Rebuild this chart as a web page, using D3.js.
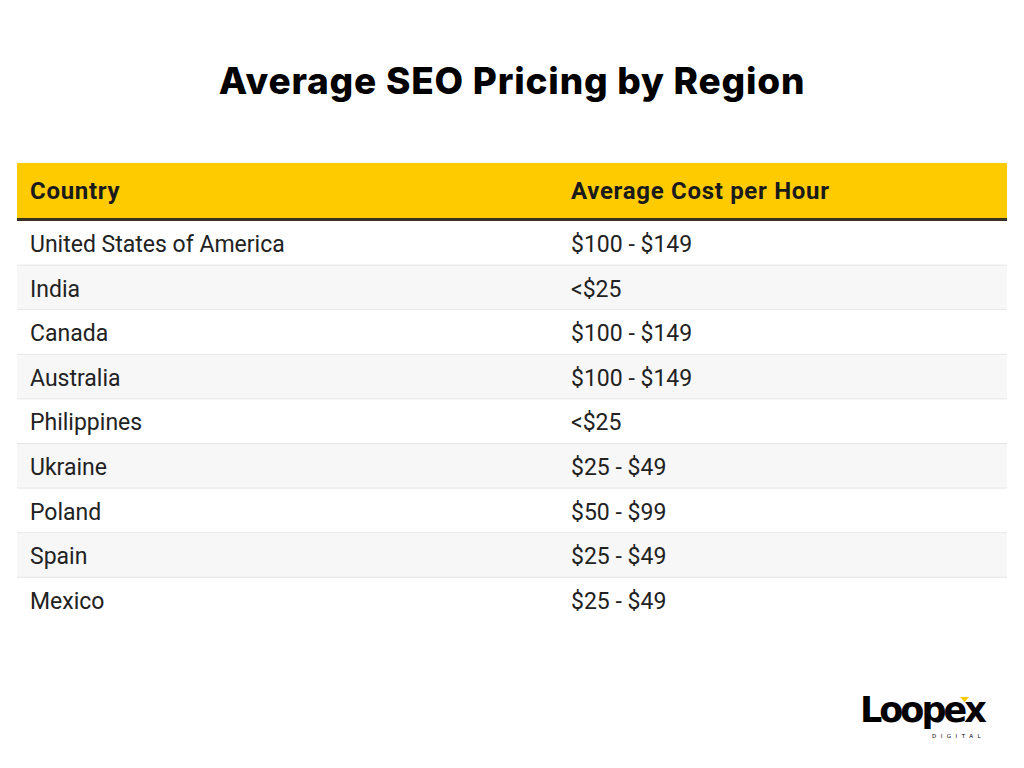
<!DOCTYPE html>
<html>
<head>
<meta charset="utf-8">
<script src="https://cdn.jsdelivr.net/npm/d3@7"></script>
<style>
  body { margin: 0; background: #fff; }
  svg { display: block; }
</style>
</head>
<body>
<script>
// table data
var headers = ["Country", "Average Cost per Hour"];
var countries = ["United States of America", "India", "Canada", "Australia", "Philippines", "Ukraine", "Poland", "Spain", "Mexico"];
var costs = ["$100 - $149", "<$25", "$100 - $149", "$100 - $149", "<$25", "$25 - $49", "$50 - $99", "$25 - $49", "$25 - $49"];

var width = 1024, height = 768;
var tableLeft = 17, tableRight = 1007;
var headTop = 163, headBottom = 218, bodyTop = 221;
var rowH = 44.6;

var svg = d3.select("body").append("svg")
  .attr("width", width)
  .attr("height", height);

// title
svg.append("text")
  .attr("x", width / 2)
  .attr("y", 94)
  .attr("text-anchor", "middle")
  .style("font-family", "Inter, 'Open Sans', sans-serif")
  .style("font-weight", 800)
  .style("font-size", "37px")
  .style("letter-spacing", "0.8px")
  .attr("fill", "#000")
  .text("Average SEO Pricing by Region");

// column positions
var x = d3.scaleOrdinal()
  .domain(headers)
  .range([30, 571]);

var y = d3.scaleBand()
  .domain(d3.range(countries.length))
  .range([bodyTop, bodyTop + rowH * countries.length])
  .padding(0);

// header
svg.append("rect")
  .attr("x", tableLeft).attr("y", headTop)
  .attr("width", tableRight - tableLeft).attr("height", headBottom - headTop)
  .attr("fill", "#fecb00");
svg.append("rect")
  .attr("x", tableLeft).attr("y", headBottom)
  .attr("width", tableRight - tableLeft).attr("height", bodyTop - headBottom)
  .attr("fill", "#3b3226");

svg.selectAll(".head")
  .data(headers)
  .enter().append("text")
  .attr("class", "head")
  .attr("x", function(d) { return x(d); })
  .attr("y", 199)
  .style("font-family", "Roboto, sans-serif")
  .style("font-weight", 700)
  .style("font-size", "24px")
  .style("letter-spacing", "0.7px")
  .attr("fill", "#1a1a1a")
  .text(function(d) { return d; });

// rows
var rows = svg.selectAll(".row")
  .data(countries)
  .enter().append("g")
  .attr("class", "row")
  .attr("transform", function(d, i) { return "translate(0," + y(i) + ")"; });

rows.append("rect")
  .attr("x", tableLeft)
  .attr("width", tableRight - tableLeft)
  .attr("height", y.bandwidth())
  .attr("fill", function(d, i) { return i % 2 ? "#f7f7f7" : "#fff"; });

rows.filter(function(d, i) { return i < countries.length - 1; })
  .append("rect")
  .attr("x", tableLeft)
  .attr("y", y.bandwidth() - 1)
  .attr("width", tableRight - tableLeft)
  .attr("height", 1.5)
  .attr("fill", "#e6e6e6");

rows.append("text")
  .attr("x", x(headers[0]))
  .attr("y", 31)
  .style("font-family", "Roboto, sans-serif")
  .style("font-size", "23px")
  .attr("fill", "#222")
  .text(function(d) { return d; });

rows.append("text")
  .attr("x", x(headers[1]))
  .attr("y", 31)
  .style("font-family", "Roboto, sans-serif")
  .style("font-size", "23px")
  .attr("fill", "#222")
  .text(function(d, i) { return costs[i]; });

// logo
var logo = svg.append("g").attr("transform", "translate(860,722)");
logo.append("text")
  .attr("x", 0).attr("y", 0)
  .style("font-family", "'DejaVu Sans', sans-serif")
  .style("font-weight", 700)
  .style("font-size", "35px")
  .style("letter-spacing", "-3px")
  .attr("fill", "#000")
  .text("Loopex");
logo.append("path")
  .attr("d", "M100,-25 L109,-25 L104.5,-20 Z")
  .attr("fill", "#fecb00");
logo.append("text")
  .attr("x", 72).attr("y", 16)
  .style("font-family", "'DejaVu Sans', sans-serif")
  .style("font-size", "5.5px")
  .style("letter-spacing", "4.5px")
  .attr("fill", "#000")
  .text("DIGITAL");
</script>
</body>
</html>
